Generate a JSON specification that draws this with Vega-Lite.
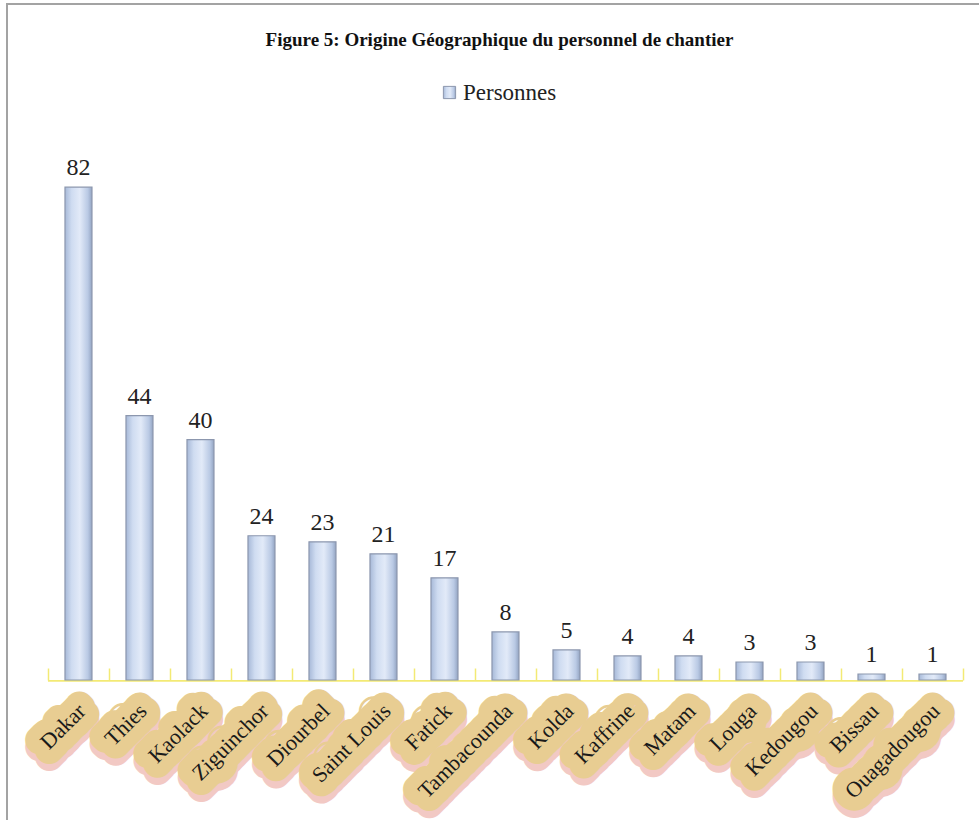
{
  "$schema": "https://vega.github.io/schema/vega-lite/v6.json",
  "autosize": {"type": "none"},
  "padding": {"left": 7, "top": 4, "right": 0, "bottom": 0},
  "width": 975,
  "height": 822,
  "background": "white",
  "title": {
    "text": "Figure 5: Origine Géographique du personnel de chantier",
    "font": "Liberation Serif",
    "fontSize": 19,
    "fontWeight": "bold",
    "color": "#111111",
    "anchor": "middle",
    "offset": 0,
    "dx": 5,
    "dy": 46
  },
  "config": {"view": {"stroke": "#a3a3a3", "strokeWidth": 2}},
  "data": {
    "values": [
      {"region": "Dakar", "personnes": 82},
      {"region": "Thies", "personnes": 44},
      {"region": "Kaolack", "personnes": 40},
      {"region": "Ziguinchor", "personnes": 24},
      {"region": "Diourbel", "personnes": 23},
      {"region": "Saint Louis", "personnes": 21},
      {"region": "Fatick", "personnes": 17},
      {"region": "Tambacounda", "personnes": 8},
      {"region": "Kolda", "personnes": 5},
      {"region": "Kaffrine", "personnes": 4},
      {"region": "Matam", "personnes": 4},
      {"region": "Louga", "personnes": 3},
      {"region": "Kedougou", "personnes": 3},
      {"region": "Bissau", "personnes": 1},
      {"region": "Ouagadougou", "personnes": 1}
    ]
  },
  "encoding": {
    "x": {
      "field": "region",
      "type": "nominal",
      "sort": null,
      "scale": {"paddingInner": 0, "paddingOuter": 0.4918, "align": 0.683},
      "axis": {
        "title": null,
        "labels": false,
        "domain": false,
        "offset": -146,
        "tickColor": "#f3ea74",
        "tickBand": "extent",
        "tickSize": -12,
        "tickWidth": 1.5
      }
    }
  },
  "layer": [
    {
      "mark": {"type": "bar", "color": "#f3ea74", "width": {"band": 1}},
      "encoding": {
        "y": {"datum": 0, "scale": {"domain": [-24.29, 112.48], "nice": false, "zero": false}, "axis": null},
        "y2": {"datum": -0.3}
      }
    },
    {
      "mark": {
        "type": "bar",
        "width": 27,
        "strokeWidth": 1.2,
        "color": {
          "gradient": "linear",
          "x1": 0, "y1": 0, "x2": 1, "y2": 0,
          "stops": [
            {"offset": 0, "color": "#a7b9d8"},
            {"offset": 0.25, "color": "#cfdcf1"},
            {"offset": 0.55, "color": "#e2eaf8"},
            {"offset": 0.85, "color": "#b9c9e4"},
            {"offset": 1, "color": "#93a4c2"}
          ]
        }
      },
      "encoding": {
        "y": {"field": "personnes", "type": "quantitative"},
        "y2": {"datum": 0},
        "stroke": {
          "datum": "Personnes",
          "scale": {"range": ["#8c97ae"]},
          "legend": {
            "title": null,
            "orient": "none",
            "legendX": 431,
            "legendY": 77,
            "symbolType": "square",
            "symbolSize": 150,
            "symbolFillColor": "#c3d1ea",
            "symbolStrokeWidth": 1,
            "labelFont": "Liberation Serif",
            "labelFontSize": 23,
            "labelColor": "#222222",
            "labelOffset": 2
          }
        }
      }
    },
    {
      "mark": {
        "type": "text",
        "font": "Liberation Serif",
        "fontSize": 24,
        "color": "#222222",
        "baseline": "bottom",
        "dy": -7
      },
      "encoding": {
        "y": {"field": "personnes", "type": "quantitative"},
        "text": {"field": "personnes", "type": "quantitative"}
      }
    },
    {
      "mark": {
        "type": "text",
        "font": "Liberation Serif",
        "fontSize": 22,
        "angle": -45,
        "align": "right",
        "baseline": "middle",
        "dx": -22,
        "dy": 27,
        "stroke": "#f2c9c4",
        "strokeWidth": 28,
        "strokeJoin": "round",
        "fill": "#f2c9c4"
      },
      "encoding": {
        "y": {"datum": 0},
        "text": {"field": "region"}
      }
    },
    {
      "mark": {
        "type": "text",
        "font": "Liberation Serif",
        "fontSize": 22,
        "angle": -45,
        "align": "right",
        "baseline": "middle",
        "dx": -17,
        "dy": 22,
        "stroke": "#e8cd92",
        "strokeWidth": 28,
        "strokeJoin": "round",
        "fill": "#e8cd92"
      },
      "encoding": {
        "y": {"datum": 0},
        "text": {"field": "region"}
      }
    },
    {
      "mark": {
        "type": "text",
        "font": "Liberation Serif",
        "fontSize": 22,
        "angle": -45,
        "align": "right",
        "baseline": "middle",
        "dx": -17,
        "dy": 22,
        "fill": "#1a1a1a"
      },
      "encoding": {
        "y": {"datum": 0},
        "text": {"field": "region"}
      }
    }
  ]
}
